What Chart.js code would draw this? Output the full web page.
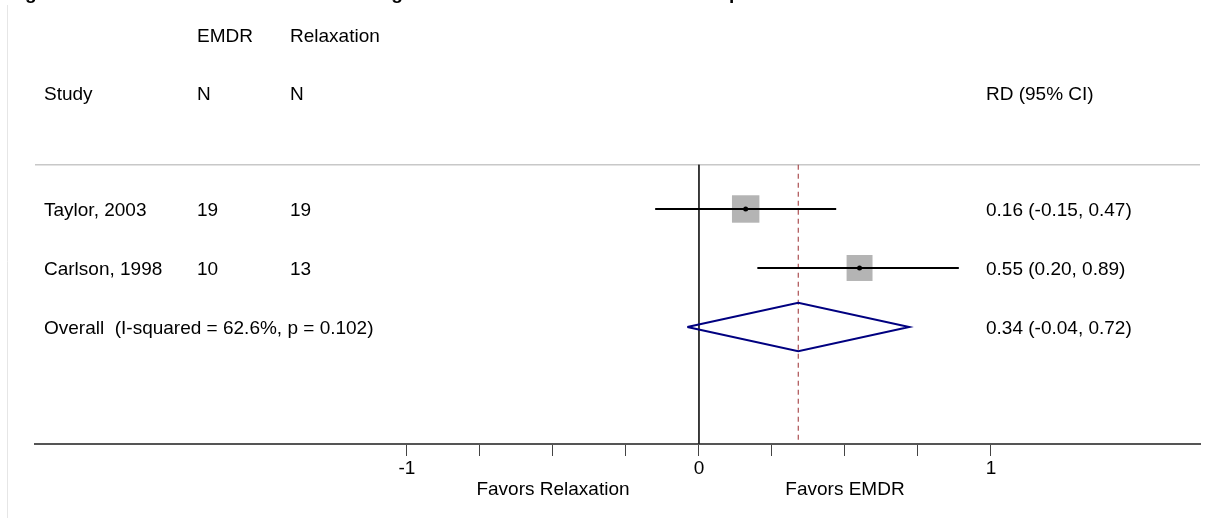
<!DOCTYPE html>
<html>
<head>
<meta charset="utf-8">
<script src="https://cdn.jsdelivr.net/npm/chart.js@4/dist/chart.umd.min.js"></script>
<style>
  html, body { margin: 0; padding: 0; background: #ffffff; }
  #wrap { position: relative; width: 1212px; height: 518px; }
</style>
</head>
<body>
<div id="wrap"><canvas id="c"></canvas></div>
<script>
// ---- data ----
const studies = ['Taylor, 2003', 'Carlson, 1998'];
const nEMDR = [19, 10];
const nRelax = [19, 13];
const rd = [0.16, 0.55];
const lower = [-0.15, 0.20];
const upper = [0.47, 0.89];
const weights = [52.8, 47.2];
const studyRows = [1, 2];

const overallLabel = 'Overall  (I-squared = 62.6%, p = 0.102)';
const overallRD = 0.34;
const overallLower = -0.04;
const overallUpper = 0.72;
const overallRow = 3;

const xTicks = [-1, -0.75, -0.5, -0.25, 0, 0.25, 0.5, 0.75, 1];
const tickLabels = ['-1', '', '', '', '0', '', '', '', '1'];

const headerTop = ['', 'EMDR', 'Relaxation', ''];
const headerBottom = ['Study', 'N', 'N', 'RD (95% CI)'];
const favorsLabels = ['Favors Relaxation', 'Favors EMDR'];
const favorsAt = [-0.5, 0.5];
const titleText = 'Figure 10. EMDR vs. relaxation: loss of diagnosis at end of the treatment in comparison';

// ---- layout / style ----
const FONT = '"Liberation Sans", Arial, Helvetica, sans-serif';
const X_MIN = -2.274, X_MAX = 1.716;
const Y_MIN = -2.542, Y_MAX = 4.983;
const SEP_ROW = 0.25;
const HEAD1_ROW = -1.95, HEAD2_ROW = -0.97;
const COLS = [44, 197, 290, 986];
const DIAMOND_HALF = 0.41;

const fmt = v => v.toFixed(2);
const ciText = rd.map((v, i) => `${fmt(v)} (${fmt(lower[i])}, ${fmt(upper[i])})`);
const overallText = `${fmt(overallRD)} (${fmt(overallLower)}, ${fmt(overallUpper)})`;

const datasets = [];
// separator line
datasets.push({ data: [{x: X_MIN, y: SEP_ROW}, {x: X_MAX, y: SEP_ROW}], showLine: true,
  borderColor: '#c8c8c8', borderWidth: 1.5, pointRadius: 0, order: 6 });
// null line
datasets.push({ data: [{x: 0, y: SEP_ROW}, {x: 0, y: Y_MAX}], showLine: true,
  borderColor: '#222222', borderWidth: 1, pointRadius: 0, order: 5 });
// overall dashed line
datasets.push({ data: [{x: overallRD, y: SEP_ROW}, {x: overallRD, y: Y_MAX}], showLine: true,
  borderColor: '#9b2d30', borderWidth: 1, borderDash: [5, 4], pointRadius: 0, order: 5 });
// weight boxes
datasets.push({ data: rd.map((v, i) => ({x: v, y: studyRows[i]})), showLine: false,
  pointStyle: 'rect', pointRadius: weights.map(w => 2.67 * Math.sqrt(w)),
  backgroundColor: '#b4b4b4', borderWidth: 0, order: 4 });
// CI lines
rd.forEach((v, i) => {
  datasets.push({ data: [{x: lower[i], y: studyRows[i]}, {x: upper[i], y: studyRows[i]}], showLine: true,
    borderColor: '#000000', borderWidth: 2, pointRadius: 0, order: 2 });
});
// point estimates
datasets.push({ data: rd.map((v, i) => ({x: v, y: studyRows[i]})), showLine: false,
  pointStyle: 'circle', pointRadius: 2.5, backgroundColor: '#000000', borderWidth: 0, order: 1 });
// overall diamond
datasets.push({ data: [
    {x: overallLower, y: overallRow},
    {x: overallRD, y: overallRow - DIAMOND_HALF},
    {x: overallUpper, y: overallRow},
    {x: overallRD, y: overallRow + DIAMOND_HALF},
    {x: overallLower, y: overallRow}
  ], showLine: true, borderColor: '#000080', borderWidth: 2, pointRadius: 0, fill: false, order: 1 });

const textPlugin = {
  id: 'forestText',
  afterDraw(chart) {
    const ctx = chart.ctx;
    const xs = chart.scales.x, ys = chart.scales.y;
    ctx.save();
    // faint left frame line
    ctx.strokeStyle = '#e6e6e6';
    ctx.lineWidth = 1;
    ctx.beginPath(); ctx.moveTo(7.5, 5); ctx.lineTo(7.5, 518); ctx.stroke();
    // clipped title (only descenders visible at the top edge)
    ctx.fillStyle = '#000000';
    ctx.font = 'bold 19px ' + FONT;
    ctx.textBaseline = 'alphabetic';
    ctx.textAlign = 'left';
    ctx.fillText(titleText, 8, -1);

    ctx.font = '19px ' + FONT;
    const cap = 6.8;
    const rowY = r => ys.getPixelForValue(r) + cap;
    headerTop.forEach((t, i) => { if (t) ctx.fillText(t, COLS[i], rowY(HEAD1_ROW)); });
    headerBottom.forEach((t, i) => { if (t) ctx.fillText(t, COLS[i], rowY(HEAD2_ROW)); });
    studies.forEach((s, i) => {
      const y = rowY(studyRows[i]);
      ctx.fillText(s, COLS[0], y);
      ctx.fillText(String(nEMDR[i]), COLS[1], y);
      ctx.fillText(String(nRelax[i]), COLS[2], y);
      ctx.fillText(ciText[i], COLS[3], y);
    });
    ctx.fillText(overallLabel, COLS[0], rowY(overallRow));
    ctx.fillText(overallText, COLS[3], rowY(overallRow));
    // favors labels
    ctx.textAlign = 'center';
    favorsLabels.forEach((t, i) => ctx.fillText(t, xs.getPixelForValue(favorsAt[i]), 495));
    ctx.restore();
  }
};

new Chart(document.getElementById('c'), {
  type: 'scatter',
  data: { datasets },
  options: {
    responsive: true,
    maintainAspectRatio: false,
    animation: false,
    events: [],
    layout: { autoPadding: false, padding: { left: 35, right: 12, top: 0, bottom: 0 } },
    plugins: { legend: { display: false }, tooltip: { enabled: false } },
    scales: {
      x: {
        type: 'linear', min: X_MIN, max: X_MAX,
        afterBuildTicks: s => { s.ticks = xTicks.map(v => ({ value: v })); },
        afterFit: s => { s.height = 74; },
        ticks: {
          callback: (v, i) => tickLabels[i],
          color: '#000000', font: { family: FONT, size: 19 }, padding: 1,
          autoSkip: false, maxRotation: 0
        },
        grid: { drawOnChartArea: false, drawTicks: true, tickLength: 12, color: '#444444', lineWidth: 1 },
        border: { display: true, color: '#555555', width: 2 }
      },
      y: { type: 'linear', display: false, reverse: true, min: Y_MIN, max: Y_MAX }
    }
  },
  plugins: [textPlugin]
});
</script>
</body>
</html>
